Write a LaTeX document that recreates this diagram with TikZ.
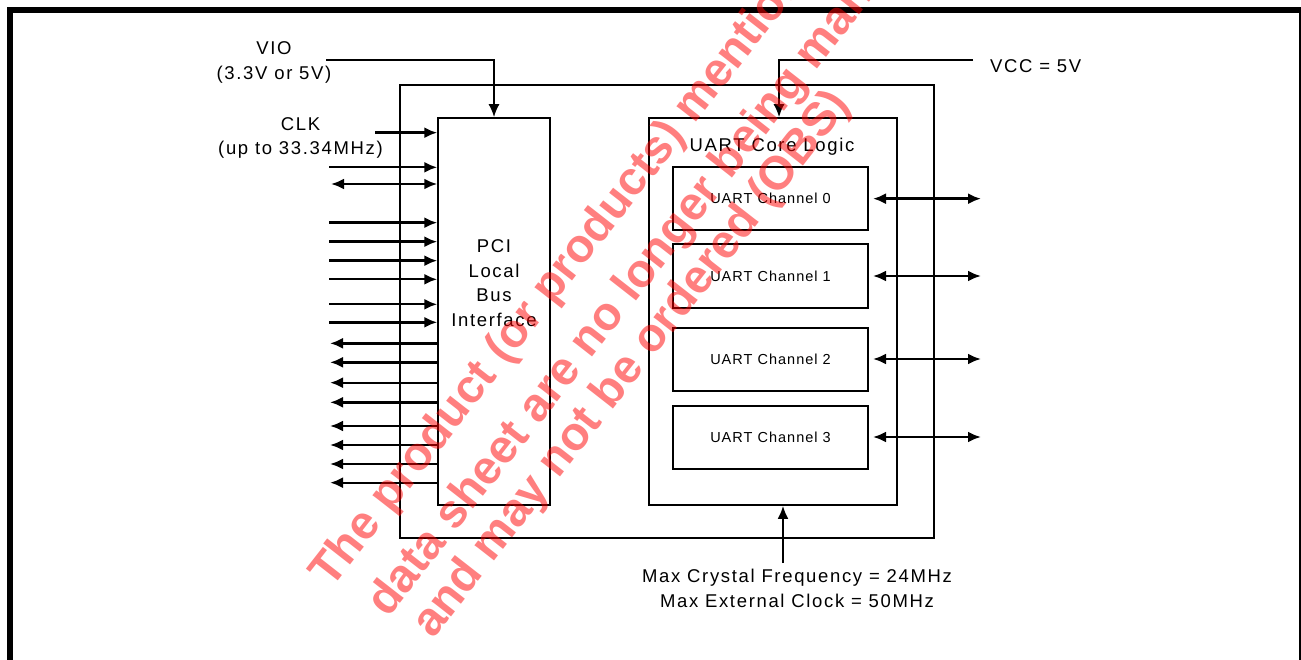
\documentclass[tikz,border=0pt]{standalone}
\usepackage{fontspec}
\setmainfont{Liberation Sans}
\usetikzlibrary{arrows.meta}
\definecolor{wmred}{RGB}{255,0,0}
\tikzset{
  >={Latex[length=13pt,width=11pt]},
  thinbox/.style={draw, line width=1.3pt, inner sep=0pt},
  chbox/.style={draw, line width=2pt, inner sep=0pt, minimum width=195pt,
    font=\fontsize{14.5}{17}\selectfont\addfontfeature{LetterSpace=7}},
  sig/.style={line width=2.4pt},
  lbl/.style={inner sep=0pt, align=center,
    font=\fontsize{18.5}{24.5}\selectfont\addfontfeature{LetterSpace=9}},
  wm/.style={inner sep=0pt, anchor=base west, rotate=52, text=wmred, text opacity=0.5,
    font=\fontsize{47}{47}\selectfont\bfseries}
}
\begin{document}
\begin{tikzpicture}[x=1pt,y=-1pt]
\path[use as bounding box, clip] (0,0) rectangle (1301,660);
% frame
\draw[line width=6pt] (10,700) -- (10,10) -- (1302,10) -- (1302,700);

% boxes
\node[thinbox, minimum width=534pt, minimum height=453pt] (chip) at (667,311.5) {};
\node[thinbox, line width=1.5pt, minimum width=112pt, minimum height=387pt] (pci) at (494,311.5) {};
\node[thinbox, line width=1.5pt, minimum width=248pt, minimum height=387pt] (core) at (773,311.5) {};
\node[chbox, minimum height=63pt] (ch0) at (770.5,198.7) {UART Channel 0};
\node[chbox, minimum height=64pt] (ch1) at (770.5,276) {UART Channel 1};
\node[chbox, minimum height=63pt] (ch2) at (770.5,359) {UART Channel 2};
\node[chbox, minimum height=63pt] (ch3) at (770.5,437) {UART Channel 3};

% labels
\node[lbl] (pcitxt) at (494,283) {PCI\\Local\\Bus\\Interface};
\node[lbl] (coretxt) at (772,146.5) {UART Core Logic};
\node[lbl] (viotxt) at (274,62.5) {VIO\\(3.3V or 5V)};
\node[lbl] (clktxt) at (300.5,138) {CLK\\(up to 33.34MHz)};
\node[lbl, anchor=west] (vcctxt) at (990,66) {VCC = 5V};
\node[lbl] (xtaltxt) at (797,588.5) {Max Crystal Frequency = 24MHz\\Max External Clock = 50MHz};

% supply lines
\coordinate (vio) at (326,60.3);
\draw[sig, line width=2pt, ->] (vio) -| (pci.north);
\coordinate (vcc) at (973,60.3);
\draw[sig, line width=2pt, ->] (vcc) -| ([xshift=6pt]core.north);
\coordinate (xtal) at (783,563);
\draw[sig, ->] (xtal) -- (xtal |- core.south);

% clock
\coordinate (clk) at (375,132.7);
\draw[sig, ->] (clk) -- (clk -| pci.west);

% PCI inputs
\foreach \y [count=\i] in {167.3,222.7,241.7,260.7,279.3,304.3,322.3} {
  \coordinate (in\i) at (329,\y);
  \draw[sig, ->] (in\i) -- (in\i -| pci.west);
}
\coordinate (bi) at (331,184);
\draw[sig, <->] (bi) -- (bi -| pci.west);
% PCI outputs
\foreach \y [count=\i] in {343.3,362.3,382.7,402.3,426,445,464,482.7} {
  \coordinate (out\i) at (330,\y);
  \draw[sig, ->] (out\i -| pci.west) -- (out\i);
}

% channel I/O
\foreach \i in {0,1,2,3} {
  \coordinate (r\i) at (ch\i.east -| 981,0);
  \draw[sig, <->] ([xshift=4pt]ch\i.east) -- (r\i);
}

% watermark
\node[wm] (wm1) at (331,590) {The product (or products) mentioned};
\node[wm] (wm2) at (388,619) {data sheet are no longer being manufactured};
\node[wm] (wm3) at (433,640) {and may not be ordered (OBS)};
\end{tikzpicture}
\end{document}
